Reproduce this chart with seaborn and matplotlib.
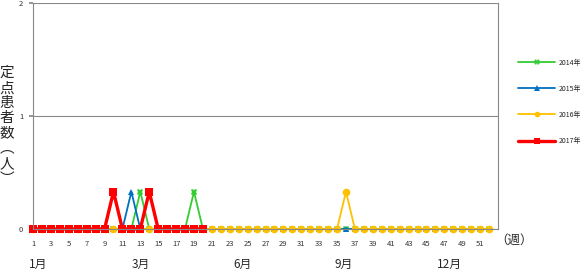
import matplotlib
matplotlib.use("Agg")
import matplotlib.pyplot as plt
import seaborn as sns
import pandas as pd

weeks = list(range(1, 53))
y2014 = [0, 0, 0, 0, 0, 0, 0, 0, 0, 0, 0, 0, 0.33, 0, 0, 0, 0, 0, 0.33, 0,
         0, 0, 0, 0, 0, 0, 0, 0, 0, 0, 0, 0, 0, 0, 0, 0, 0, 0, 0, 0,
         0, 0, 0, 0, 0, 0, 0, 0, 0, 0, 0, 0]
y2015 = [0, 0, 0, 0, 0, 0, 0, 0, 0, 0, 0, 0.33, 0, 0, 0, 0, 0, 0, 0, 0,
         0, 0, 0, 0, 0, 0, 0, 0, 0, 0, 0, 0, 0, 0, 0, 0, 0, 0, 0, 0,
         0, 0, 0, 0, 0, 0, 0, 0, 0, 0, 0, 0]
y2016 = [0, 0, 0, 0, 0, 0, 0, 0, 0, 0, 0, 0, 0, 0, 0, 0, 0, 0, 0, 0,
         0, 0, 0, 0, 0, 0, 0, 0, 0, 0, 0, 0, 0, 0, 0, 0.33, 0, 0, 0, 0,
         0, 0, 0, 0, 0, 0, 0, 0, 0, 0, 0, 0]
weeks2017 = list(range(1, 21))
y2017 = [0, 0, 0, 0, 0, 0, 0, 0, 0, 0.33, 0, 0, 0, 0.33, 0, 0, 0, 0, 0, 0]

series_labels = ["2014年", "2015年", "2016年", "2017年"]
xtick_labels = [str(w) for w in range(1, 53, 2)]
month_labels = ["1月", "3月", "6月", "9月", "12月"]
month_pos = [1.6, 13.1, 24.4, 35.7, 47.6]

sns.set_theme(style="white")
plt.rcParams['font.family'] = ['Noto Sans CJK JP', 'DejaVu Sans']

fig = plt.figure(figsize=(5.85, 2.71), dpi=100)
ax = fig.add_axes([33/585, 1-229/271, (498-33)/585, (229-3)/271])

styles = [
    (weeks, y2014, "#33cc33", "X", 4.5, 1.3),
    (weeks, y2015, "#0070c0", "^", 4.5, 1.3),
    (weeks, y2016, "#ffc000", "o", 5.5, 1.3),
    (weeks2017, y2017, "#ff0000", "s", 6.0, 2.4),
]
for (xs, ys, col, mk, ms, lw), lab in zip(styles, series_labels):
    df = pd.DataFrame({"week": xs, "val": ys})
    sns.lineplot(data=df, x="week", y="val", ax=ax, color=col, marker=mk,
                 markersize=ms, linewidth=lw, markeredgewidth=0,
                 label=lab, clip_on=False)

ax.set_xlim(1, 53)
ax.set_ylim(0, 2)
ax.set_yticks([0, 1, 2])
ax.set_yticklabels(["0", "1", "2"], fontsize=5.5, color="#333333")
ax.set_xticks(list(range(1, 53, 2)))
ax.set_xticklabels(xtick_labels, fontsize=5.5, color="#333333")
ax.tick_params(axis="x", length=0, pad=8)
ax.tick_params(axis="y", length=3, pad=4, color="#888888", direction="out", left=True)
ax.set_xlabel("")
ax.set_ylabel("")
ax.yaxis.grid(True, color="#888888", linewidth=0.8)
for side in ["left", "right", "top", "bottom"]:
    ax.spines[side].set_visible(True)
    ax.spines[side].set_color("#888888")
    ax.spines[side].set_linewidth(0.8)
ax.spines["top"].set_visible(False)

for lab, pos in zip(month_labels, month_pos):
    ax.text(pos, -0.31, lab, fontsize=8.5, ha="center", va="center",
            transform=ax.transData)

fig.text(514/585, 1-240/271, "（週）", fontsize=9, ha="center", va="center")
fig.text(7/585, 1-126/271, "\n".join("定点患者数︵人︶"), fontsize=10.5,
         ha="center", va="center", linespacing=1.1)

leg = ax.legend(loc="upper left", bbox_to_anchor=(515/585, 1-56/271),
                bbox_transform=fig.transFigure, frameon=False, fontsize=5,
                labelspacing=2.6, handlelength=5.4, handletextpad=0.5,
                borderaxespad=0)
for h in leg.legend_handles:
    h.set_markersize(4)

fig.savefig("out.png", dpi=100)
